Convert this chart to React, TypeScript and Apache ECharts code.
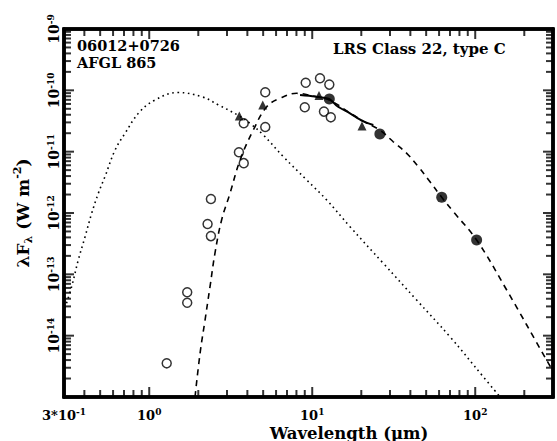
import React, { useEffect, useRef } from "react";
import * as echarts from "echarts";

// ---- data ----
const openCircles: [number, number][] = [
  [5.15, 9.3e-11], [5.15, 2.52e-11], [3.8, 2.9e-11], [3.55, 9.8e-12], [3.8, 6.5e-12],
  [2.39, 1.69e-12], [2.28, 6.6e-13], [2.39, 4.2e-13], [9.12, 1.33e-10], [11.16, 1.57e-10],
  [12.73, 1.24e-10], [9.0, 5.3e-11], [11.8, 4.5e-11], [13.0, 3.63e-11],
  [1.71, 5.1e-14], [1.71, 3.44e-14], [1.28, 3.54e-15],
];
const triangles: [number, number][] = [
  [3.57, 3.81e-11], [4.97, 5.77e-11], [11.0, 8.2e-11], [20.2, 2.62e-11],
];
const filledCircles: [number, number][] = [
  [12.73, 7.2e-11], [26.0, 1.94e-11], [62.3, 1.8e-12], [102, 3.63e-13],
];
const stellarCurve: [number, number][] = [
  [0.304, 2.83e-14], [0.334, 6.28e-14], [0.367, 1.71e-13], [0.404, 4.1e-13], [0.4436, 9.9e-13],
  [0.487, 2.09e-12], [0.535, 3.91e-12], [0.617, 1.06e-11], [0.711, 2.0e-11], [0.87, 4.4e-11],
  [1.085, 6.95e-11], [1.5, 9.2e-11], [2.1, 7.87e-11], [2.65, 5.8e-11], [3.55, 3.85e-11],
  [4.15, 2.9e-11], [5.01, 1.87e-11], [6.65, 8.28e-12], [9.25, 3.45e-12], [12.27, 1.63e-12],
  [17.05, 5.97e-13], [27.3, 1.51e-13], [43.7, 3.81e-14], [70.0, 9.6e-15], [112, 2.14e-15],
  [142, 1.0e-15],
];
const modelCurve: [number, number][] = [
  [1.91, 1.0e-15], [2.05, 5.15e-15], [2.2, 1.8e-14], [2.36, 6.28e-14], [2.53, 2.2e-13],
  [2.78, 7.7e-13], [3.13, 2.09e-12], [3.61, 7.3e-12], [4.35, 2.25e-11], [5.26, 5.4e-11],
  [6.34, 7.41e-11], [8.03, 8.94e-11], [10.3, 8.0e-11], [12.8, 6.9e-11], [17.0, 4.3e-11],
  [20.5, 3.15e-11], [26.0, 2.25e-11], [31.4, 1.45e-11], [38.0, 9.4e-12], [44.7, 5.7e-12],
  [52.8, 3.23e-12], [62.3, 1.8e-12], [73.4, 1.05e-12], [102, 3.63e-13], [156, 5.55e-14],
  [274, 4.0e-15], [300, 2.65e-15],
];
const lrsSpectrum: [number, number][] = [
  [8.42, 8.4e-11], [10.4, 7.93e-11], [12.7, 7.22e-11], [14.2, 5.55e-11], [17.05, 4.22e-11],
  [20.5, 3.14e-11], [23.7, 2.72e-11],
];
const xMin = 0.3;
const xMax = 300;
const yMin = 1e-15;
const yMax = 1e-9;
const xMajorTicks = [1, 10, 100];
const yMajorTicks = [1e-14, 1e-13, 1e-12, 1e-11, 1e-10];
const minorMantissas = [2, 3, 4, 5, 6, 7, 8, 9];
const xMinorTicks: number[] = [0.4, 0.5, 0.6, 0.7, 0.8, 0.9];
[0, 1].forEach((d) => minorMantissas.forEach((m) => xMinorTicks.push(m * Math.pow(10, d))));
xMinorTicks.push(200);
const yMinorTicks: number[] = [];
[-15, -14, -13, -12, -11, -10].forEach((d) =>
  minorMantissas.forEach((m) => yMinorTicks.push(m * Math.pow(10, d)))
);

const FONT = "DejaVu Serif";

function makeAxisLine() {
  return { show: true, onZero: false, lineStyle: { color: "#000", width: 3.5 } };
}
function tickSeries(data: number[][], size: number[], offset: number[]) {
  return {
    type: "scatter", data, symbol: "rect", symbolSize: size, symbolOffset: offset,
    clip: false, silent: true, z: 10, itemStyle: { color: "#000" },
  };
}

export default function App() {
  const ref = useRef<HTMLDivElement>(null);
  useEffect(() => {
    if (!ref.current) return;
    const chart = echarts.init(ref.current, null, { renderer: "svg" });
    const richX = {
      b: { fontFamily: FONT, fontWeight: "bold", fontSize: 13, color: "#000", lineHeight: 16 },
      s: { fontFamily: FONT, fontWeight: "bold", fontSize: 9, color: "#000", lineHeight: 8, verticalAlign: "top" },
    };
    const richY = {
      b: { fontFamily: FONT, fontWeight: "bold", fontSize: 14, color: "#000", lineHeight: 16 },
      s: { fontFamily: FONT, fontWeight: "bold", fontSize: 9, color: "#000", lineHeight: 8, verticalAlign: "top" },
    };
    const xFmt = (v: number) => {
      if (Math.abs(v - 0.3) < 1e-6) return "{b|3*10}{s|-1}";
      const e = Math.log10(v);
      if (Math.abs(e - Math.round(e)) > 1e-6) return "";
      return "{b|10}{s|" + Math.round(e) + "}";
    };
    const yFmt = (v: number) => {
      const e = Math.log10(v);
      if (Math.abs(e - Math.round(e)) > 1e-6) return "";
      const r = Math.round(e);
      if (r <= -15) return "";
      return "{b|10}{s|" + r + "}";
    };
    const option: any = {
      animation: false,
      backgroundColor: "#fff",
      grid: {
        left: 64, right: 4, top: 29, bottom: 44, outerBoundsMode: "none", containLabel: false,
        show: true, borderColor: "#000", borderWidth: 3.5, backgroundColor: "transparent",
      },
      xAxis: [
        {
          type: "log", min: xMin, max: xMax, position: "bottom",
          axisLine: makeAxisLine(), axisTick: { show: false }, splitLine: { show: false },
          axisLabel: { formatter: xFmt, margin: 10, rich: richX, showMinLabel: true, showMaxLabel: false },
        },
        {
          type: "log", min: xMin, max: xMax, position: "top",
          axisLine: makeAxisLine(), axisTick: { show: false }, splitLine: { show: false }, axisLabel: { show: false },
        },
      ],
      yAxis: [
        {
          type: "log", min: yMin, max: yMax, position: "left",
          axisLine: makeAxisLine(), axisTick: { show: false }, splitLine: { show: false },
          axisLabel: { formatter: yFmt, rotate: 90, margin: 2, rich: richY, showMinLabel: false },
          name: "{b|\u03bbF}{sub|\u03bb}{b| (W m}{sup|-2}{b|)}",
          nameLocation: "middle", nameRotate: 90, nameGap: 30,
          nameTextStyle: {
            rich: {
              b: { fontFamily: FONT, fontWeight: "bold", fontSize: 17, color: "#000", lineHeight: 22 },
              sub: { fontFamily: FONT, fontWeight: "bold", fontSize: 11, color: "#000", lineHeight: 10, verticalAlign: "bottom" },
              sup: { fontFamily: FONT, fontWeight: "bold", fontSize: 11, color: "#000", lineHeight: 10, verticalAlign: "top" },
            },
          },
        },
        {
          type: "log", min: yMin, max: yMax, position: "right",
          axisLine: makeAxisLine(), axisTick: { show: false }, splitLine: { show: false }, axisLabel: { show: false },
        },
      ],
      graphic: [
        {
          type: "text", x: 77, y: 45,
          style: { text: "06012+0726", font: `bold 14.5px '${FONT}'`, fill: "#000", verticalAlign: "middle" },
        },
        {
          type: "text", x: 77, y: 62,
          style: { text: "AFGL 865", font: `bold 14.5px '${FONT}'`, fill: "#000", verticalAlign: "middle" },
        },
        {
          type: "text", x: 333, y: 49,
          style: { text: "LRS Class 22, type C", font: `bold 15px '${FONT}'`, fill: "#000", verticalAlign: "middle" },
        },
        {
          type: "text", x: 349, y: 433,
          style: { text: "Wavelength (\u03bcm)", font: `bold 16.5px '${FONT}'`, fill: "#000", align: "center", verticalAlign: "middle" },
        },
      ],
      series: [
        tickSeries(xMinorTicks.map((v) => [v, yMin]), [2, 7], [0, -3.5]),
        tickSeries(xMinorTicks.map((v) => [v, yMax]), [2, 7], [0, 3.5]),
        tickSeries(xMajorTicks.map((v) => [v, yMin]), [2, 10], [0, -5]),
        tickSeries(xMajorTicks.map((v) => [v, yMax]), [2, 10], [0, 5]),
        tickSeries(yMinorTicks.map((v) => [xMin, v]), [7, 2], [3.5, 0]),
        tickSeries(yMinorTicks.map((v) => [xMax, v]), [7, 2], [-3.5, 0]),
        tickSeries(yMajorTicks.map((v) => [xMin, v]), [10, 2], [5, 0]),
        tickSeries(yMajorTicks.map((v) => [xMax, v]), [10, 2], [-5, 0]),
        {
          type: "line", name: "stellar", data: stellarCurve, smooth: 0.4, symbol: "none",
          lineStyle: { color: "#000", width: 1.6, type: [1.6, 3.6] },
        },
        {
          type: "line", name: "model", data: modelCurve, smooth: 0.4, symbol: "none",
          lineStyle: { color: "#000", width: 1.6, type: [6, 5] },
        },
        {
          type: "line", name: "LRS", data: lrsSpectrum, smooth: 0.3, symbol: "none",
          lineStyle: { color: "#000", width: 2 },
        },
        {
          type: "scatter", name: "open", data: openCircles, symbol: "circle", symbolSize: 9,
          itemStyle: { color: "#fff", borderColor: "#000", borderWidth: 1.5 },
        },
        {
          type: "scatter", name: "tri", data: triangles, symbol: "triangle", symbolSize: 9,
          itemStyle: { color: "#000" },
        },
        {
          type: "scatter", name: "filled", data: filledCircles, symbol: "circle", symbolSize: 11,
          itemStyle: { color: "#000" },
        },
      ],
    };
    chart.setOption(option);
    return () => chart.dispose();
  }, []);
  return (
    <div
      ref={ref}
      style={{ position: "absolute", left: 0, top: 0, width: 557, height: 441, background: "#fff" }}
    />
  );
}
